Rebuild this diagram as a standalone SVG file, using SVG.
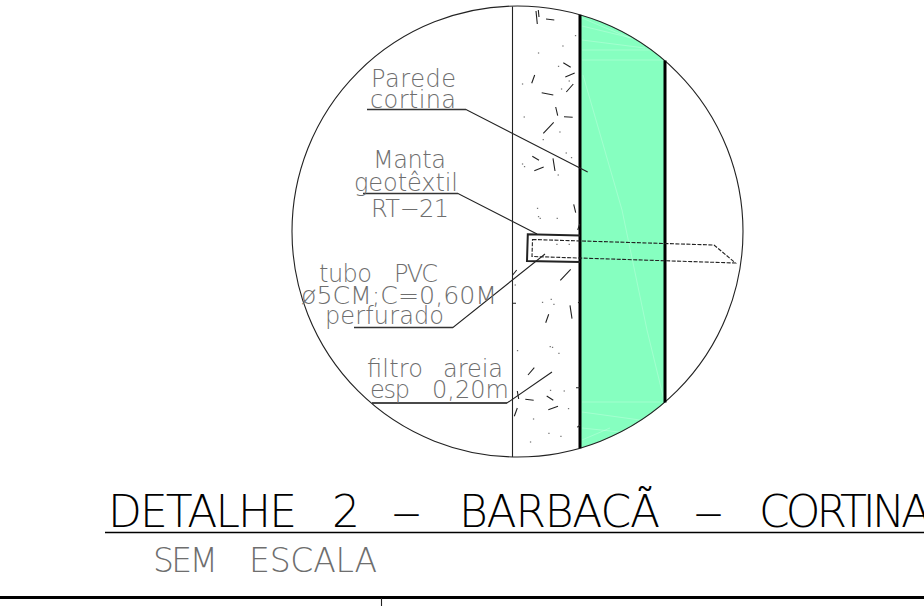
<svg xmlns="http://www.w3.org/2000/svg" width="924" height="606" viewBox="0 0 924 606">
<style>
.t{font-family:"DejaVu Sans","Liberation Sans",sans-serif;font-weight:200;fill:#6e6e6e}
.l{font-size:24px}
.line{fill:none;stroke:#222;stroke-width:1.1}
.thick{fill:none;stroke:#000;stroke-width:3}
.under{fill:none;stroke:#333;stroke-width:1.6}
</style>
<rect width="924" height="606" fill="#fff"/>
<g id="fill-concrete">
<path d="M580 14.8A225.5 225.5 0 0 1 665 60.5V402.5A225.5 225.5 0 0 1 580 448.2Z" fill="#86ffc0"/>
<path d="M582 18L630 38M582 26L640 40M582 40L645 48M582 50L650 50M582 60L664 60M583 75L622 210L647 330L664 400M582 402L660 402M582 412L640 420M582 428L620 432M582 440L610 428" fill="none" stroke="#fff" stroke-width=".6" opacity=".4"/>
</g>
<g id="section">
<circle cx="517.5" cy="231.5" r="225.5" class="line"/>
<path d="M512.5 6.5V457" class="line"/>
<path d="M580 14.8V448.2M665 60.5V402.5" class="thick"/>
<path d="M536 11L537.3 24M538.3 10L539 17M546 19L554.3 20M563.3 62.7L570.7 67.3M565.3 77L574.7 73M566.3 92L573.3 84M531.7 83.3L534.7 75M541.7 92.7L553.3 95M555.7 107L557.7 115.7M564 116.7L572.7 117.3M543.3 133.3L553.7 122.3M532.3 156.3L539 160.3M534.3 170.7L543.7 167M553 158.3L555 171M573.7 204.3L575.7 212.7M577.7 230L579.7 224M560.3 280.3L570.7 269.3M512.7 275L516.7 270M570 305.3L572 318.7M545.7 322.7L548.7 314.3M512.7 303.3H516M578 302.7L580 302M528 375L534.3 367.7M525.3 399.3L533.7 400.3M546.7 396L553.3 400.3M548.3 409.7L558 406.3M517.3 391L518.7 399M514.3 416.3L517.3 408M576 387.7H580M577.3 427.3L580 425.3" class="line"/>
<path d="M575.3 35.7h.5M562.7 46h.5M538.3 53h.5M558.3 66.3h.5M522.3 84h.5M561.3 89h.5M569 81h.5M524 117h.5M559.7 132h.5M543 139.7h.5M566 153h.5M571.3 157.7h.5M522.3 164h.5M524.3 166.7h.5M558 175h.5M537.3 208.3h.5M538.3 216.7h.5M540 218.3h.5M557 218.3h.5M556.7 244.3h.5M569 244.3h.5M515 285h.5M542.3 302.3h.5M551 299.3h.5M553.7 304.3h.5M517.3 350.7h.5M550 346.7h.5M552.3 347.3h.5M558.7 353.3h.5M550.3 390.3h.5M564 391h.5M568.3 408.7h.5M533.3 419h.5M548.7 433.3h.5M560.7 436.3h.5M530.3 442h.5" fill="none" stroke="#555" stroke-width="1" stroke-linecap="round"/>
</g>
<g id="tubo">
<path d="M580 235.5L527.8 234.3L527 261L580 262" fill="none" stroke="#222" stroke-width="2"/>
<path d="M532.5 239.5L714 245L735.5 263L532 256.5Z" fill="none" stroke="#222" stroke-width="1.1" stroke-dasharray="4 1.5"/>
</g>
<g id="connectors">
<path d="M367 109.5H466L587.7 172" class="line"/>
<path d="M363 193.5H458L537 234" class="line"/>
<path d="M354 327.5H453L545 254" class="line"/>
<path d="M372 403H507L552 372" class="line"/>
<path d="M367 109.5H466M363 193.5H458M354 327.5H453M372 403H507" class="under"/>
</g>
<g id="label-parede">
<text class="t l" x="371" y="87" textLength="85" lengthAdjust="spacing">Parede</text>
<text class="t l" x="370" y="108" textLength="86" lengthAdjust="spacing">cortina</text>
</g>
<g id="label-manta">
<text class="t l" x="373" y="168" textLength="73" lengthAdjust="spacing">Manta</text>
<text class="t l" x="354" y="191" textLength="104" lengthAdjust="spacing">geotêxtil</text>
<text class="t l" x="371" y="217" textLength="78" lengthAdjust="spacing">RT−21</text>
</g>
<g id="label-tubo">
<text class="t l" y="282"><tspan x="319" textLength="53">tubo</tspan> <tspan x="394" textLength="44">PVC</tspan></text>
<text class="t l" x="301" y="304" textLength="196" lengthAdjust="spacingAndGlyphs">ø5CM;C=0,60M</text>
<text class="t l" x="325" y="324" textLength="119" lengthAdjust="spacing">perfurado</text>
</g>
<g id="label-filtro">
<text class="t l" y="377"><tspan x="367" textLength="56">filtro</tspan> <tspan x="443" textLength="60">areia</tspan></text>
<text class="t l" y="398"><tspan x="370" textLength="40">esp</tspan> <tspan x="432" textLength="77">0,20m</tspan></text>
</g>
<g id="title">
<text class="t" font-size="44" style="fill:#000" y="527"><tspan x="108" textLength="189">DETALHE</tspan> <tspan x="332">2</tspan> <tspan x="393" textLength="27" lengthAdjust="spacingAndGlyphs">—</tspan> <tspan x="459" textLength="201">BARBACÃ</tspan> <tspan x="695" textLength="27" lengthAdjust="spacingAndGlyphs">—</tspan> <tspan x="759" textLength="172">CORTINA</tspan></text>
<path d="M105 532.5H924" fill="none" stroke="#000" stroke-width="1.6"/>
<text class="t" font-size="33" y="572"><tspan x="153" textLength="65">SEM</tspan> <tspan x="249" textLength="128">ESCALA</tspan></text>
</g>
<g id="frame">
<path d="M0 597.5H924" class="thick"/>
<path d="M381.5 598V606" class="line"/>
</g>
</svg>
